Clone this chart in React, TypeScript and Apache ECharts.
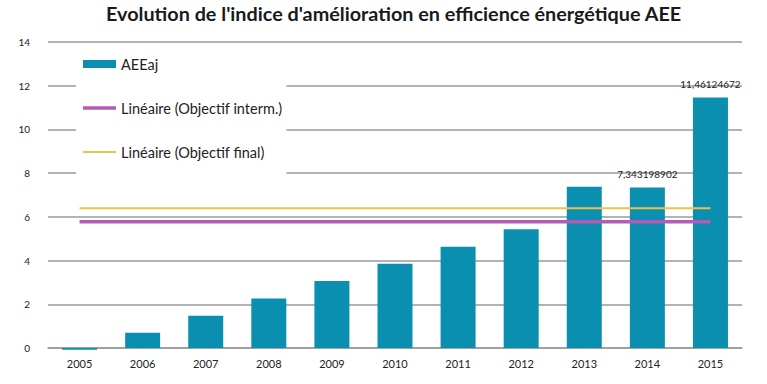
import React, { useEffect, useRef } from "react";
import * as echarts from "echarts";

const years = ["2005", "2006", "2007", "2008", "2009", "2010", "2011", "2012", "2013", "2014", "2015"];
const aeeaj = [-0.08, 0.7, 1.48, 2.27, 3.06, 3.86, 4.63, 5.43, 7.38, 7.343198902, 11.46124672];
const objectifInterm = [5.78, 5.78, 5.78, 5.78, 5.78, 5.78, 5.78, 5.78, 5.78, 5.78, 5.78];
const objectifFinal = [6.39, 6.39, 6.39, 6.39, 6.39, 6.39, 6.39, 6.39, 6.39, 6.39, 6.39];
const labelledIndexes = [9, 10];
const labelTexts = ["7,343198902", "11,46124672"];

const FONT = "Lato, 'Open Sans', sans-serif";

export default function App() {
  const ref = useRef<HTMLDivElement>(null);
  useEffect(() => {
    if (!ref.current) return;
    const chart = echarts.init(ref.current, undefined, { renderer: "svg" });
    chart.setOption({
      animation: false,
      backgroundColor: "#ffffff",
      title: {
        text: "Evolution de l'indice d'amélioration en efficience énergétique AEE",
        left: 106,
        top: 2,
        padding: 0,
        textStyle: { fontFamily: FONT, fontSize: 19.8, fontWeight: "bold", color: "#1a1a1a", lineHeight: 22 },
      },
      legend: {
        orient: "vertical",
        left: 76,
        top: 50,
        backgroundColor: "#ffffff",
        padding: [6, 4, 14, 7],
        itemGap: 28,
        itemWidth: 33,
        itemHeight: 8,
        textStyle: { fontFamily: FONT, fontSize: 14.5, color: "#222", lineHeight: 16 },
        data: [
          { name: "AEEaj", icon: "rect" },
          { name: "Linéaire (Objectif interm.)", icon: "path://M0,0H33V3.5H0Z" },
          { name: "Linéaire (Objectif final)", icon: "path://M0,0H33V2H0Z" },
        ],
      },
      grid: { left: 48, right: 25, top: 42, bottom: 36 },
      xAxis: {
        type: "category",
        data: years,
        axisLine: { lineStyle: { color: "#9a9a9a", width: 1.5 } },
        axisTick: { show: false },
        axisLabel: { fontFamily: FONT, fontSize: 11, color: "#222", margin: 10 },
      },
      yAxis: {
        type: "value",
        min: 0,
        max: 14,
        interval: 2,
        axisLine: { show: false },
        axisTick: { show: false },
        axisLabel: { fontFamily: FONT, fontSize: 10, color: "#222", margin: 18 },
        splitLine: { lineStyle: { color: "#9a9a9a", width: 1.5 } },
      },
      series: [
        {
          name: "AEEaj",
          type: "bar",
          barWidth: 35,
          clip: false,
          data: aeeaj.map((v, i) => {
            const li = labelledIndexes.indexOf(i);
            return li >= 0
              ? { value: v, label: { show: true, position: "top", formatter: labelTexts[li], distance: 8 } }
              : v;
          }),
          itemStyle: { color: "#0a8fb0" },
          label: { show: false, fontFamily: FONT, fontSize: 10, color: "#222" },
          z: 2,
        },
        {
          name: "Linéaire (Objectif interm.)",
          type: "line",
          data: objectifInterm,
          symbol: "none",
          showSymbol: false,
          lineStyle: { color: "#b45cb4", width: 3.5 },
          itemStyle: { color: "#b45cb4" },
          z: 3,
        },
        {
          name: "Linéaire (Objectif final)",
          type: "line",
          data: objectifFinal,
          symbol: "none",
          showSymbol: false,
          lineStyle: { color: "#f0c04a", width: 2 },
          itemStyle: { color: "#f0c04a" },
          z: 3,
        },
      ],
    });
    return () => chart.dispose();
  }, []);
  return <div ref={ref} style={{ width: 767, height: 384, position: "absolute", left: 0, top: 0 }} />;
}
